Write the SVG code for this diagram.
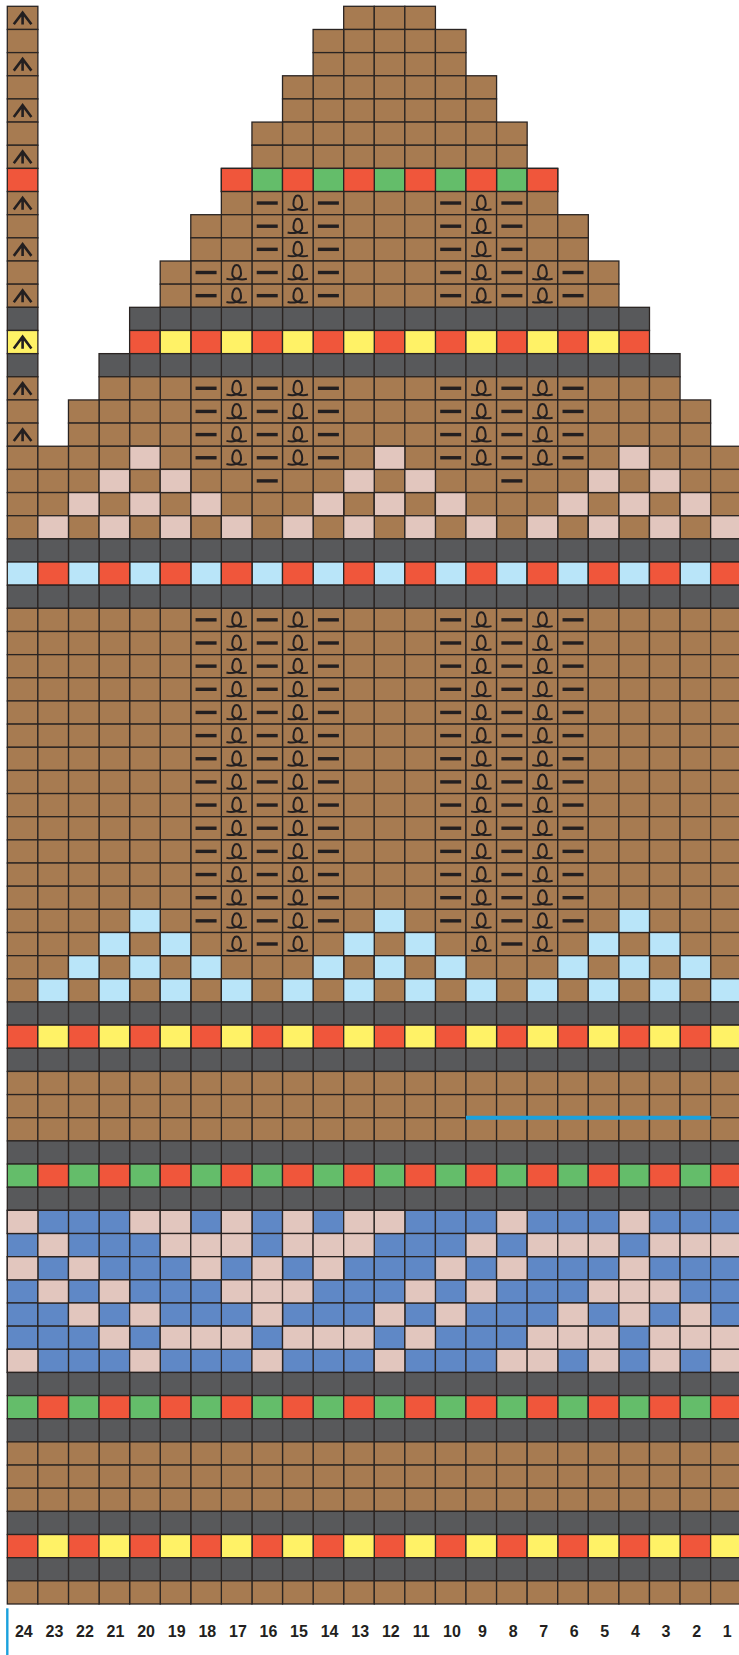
<svg xmlns="http://www.w3.org/2000/svg" xmlns:xlink="http://www.w3.org/1999/xlink" width="739" height="1655" viewBox="0 0 739 1655">
<style>
.b{fill:#a77b51}.d{fill:#58595b}.r{fill:#f0563b}.g{fill:#64bd6a}.y{fill:#fff266}.l{fill:#b9e5f9}.p{fill:#e2c6be}.u{fill:#5f88c6}
.num{font-family:"Liberation Sans Narrow","Liberation Sans",Arial,sans-serif;font-weight:bold;font-size:16px;fill:#231f20;text-anchor:middle}
</style>
<defs>
<rect id="c" width="30.58" height="23.155" stroke="#2a2422" stroke-width="1.3"/>
<rect id="pu" x="-10.5" y="-1.7" width="21" height="3.4" fill="#231f20"/>
<path id="lp" d="M-10.2,6.2 C-4.5,7.6 4.6,6.4 4.4,1 C4.2,-4 3,-7.6 0,-7.6 C-3,-7.6 -4.2,-4 -4.4,1 C-4.6,6.4 4.5,7.6 10.2,6.2" fill="none" stroke="#231f20" stroke-width="2"/>
<path id="dk" d="M6.5,18 L15.3,6.3 L24.1,18 M15.3,7 V18.2" fill="none" stroke="#231f20" stroke-width="2.6"/>
<g id="w1"><use href="#c" x="343.68"/><use href="#c" x="374.26"/><use href="#c" x="404.84"/></g>
<g id="w2"><use href="#w1"/><use href="#c" x="313.10"/><use href="#c" x="435.42"/></g>
<g id="w3"><use href="#w2"/><use href="#c" x="282.52"/><use href="#c" x="466.00"/></g>
<g id="w4"><use href="#w3"/><use href="#c" x="251.94"/><use href="#c" x="496.58"/></g>
<g id="w5"><use href="#w4"/><use href="#c" x="221.36"/><use href="#c" x="527.16"/></g>
<g id="w6"><use href="#w5"/><use href="#c" x="190.78"/><use href="#c" x="557.74"/></g>
<g id="w7"><use href="#w6"/><use href="#c" x="160.20"/><use href="#c" x="588.32"/></g>
<g id="w8"><use href="#w7"/><use href="#c" x="129.62"/><use href="#c" x="618.90"/></g>
<g id="w9"><use href="#w8"/><use href="#c" x="99.04"/><use href="#c" x="649.48"/></g>
<g id="w10"><use href="#w9"/><use href="#c" x="68.46"/><use href="#c" x="680.06"/></g>
<g id="w"><use href="#w10"/><use href="#c" x="7.30"/><use href="#c" x="37.88"/><use href="#c" x="710.64"/></g>
<g id="od"><use href="#c" x="37.88"/><use href="#c" x="99.04"/><use href="#c" x="160.20"/><use href="#c" x="221.36"/><use href="#c" x="282.52"/><use href="#c" x="343.68"/><use href="#c" x="404.84"/><use href="#c" x="466.00"/><use href="#c" x="527.16"/><use href="#c" x="588.32"/><use href="#c" x="649.48"/><use href="#c" x="710.64"/></g>
<g id="m">
<use href="#c" x="129.62"/><use href="#c" x="374.26"/><use href="#c" x="618.90"/>
<use href="#c" x="99.04" y="23.155"/><use href="#c" x="160.20" y="23.155"/><use href="#c" x="343.68" y="23.155"/><use href="#c" x="404.84" y="23.155"/><use href="#c" x="588.32" y="23.155"/><use href="#c" x="649.48" y="23.155"/>
<use href="#c" x="68.46" y="46.31"/><use href="#c" x="129.62" y="46.31"/><use href="#c" x="190.78" y="46.31"/><use href="#c" x="313.10" y="46.31"/><use href="#c" x="374.26" y="46.31"/><use href="#c" x="435.42" y="46.31"/><use href="#c" x="557.74" y="46.31"/><use href="#c" x="618.90" y="46.31"/><use href="#c" x="680.06" y="46.31"/>
</g>
<g id="s20"><use href="#pu" x="267.23" y="11.5"/><use href="#pu" x="511.87" y="11.5"/></g>
<g id="s3"><use href="#s20"/><use href="#pu" x="328.39" y="11.5"/><use href="#pu" x="450.71" y="11.5"/><use href="#lp" x="297.81" y="11.6"/><use href="#lp" x="481.29" y="11.6"/></g>
<g id="s5"><use href="#s3"/><use href="#pu" x="206.07" y="11.5"/><use href="#pu" x="573.03" y="11.5"/><use href="#lp" x="236.65" y="11.6"/><use href="#lp" x="542.45" y="11.6"/></g>
<g id="s40"><use href="#s20"/><use href="#lp" x="236.65" y="11.6"/><use href="#lp" x="297.81" y="11.6"/><use href="#lp" x="481.29" y="11.6"/><use href="#lp" x="542.45" y="11.6"/></g>
</defs>
<rect width="739" height="1655" fill="#fff"/>
<g id="strip">
<use href="#c" class="b" x="7.30" y="6.30"/><use href="#c" class="b" x="7.30" y="29.46"/><use href="#c" class="b" x="7.30" y="52.61"/><use href="#c" class="b" x="7.30" y="75.77"/><use href="#c" class="b" x="7.30" y="98.92"/><use href="#c" class="b" x="7.30" y="122.08"/><use href="#c" class="b" x="7.30" y="145.23"/><use href="#c" class="r" x="7.30" y="168.39"/><use href="#c" class="b" x="7.30" y="191.54"/><use href="#c" class="b" x="7.30" y="214.70"/><use href="#c" class="b" x="7.30" y="237.85"/><use href="#c" class="b" x="7.30" y="261.01"/><use href="#c" class="b" x="7.30" y="284.16"/><use href="#c" class="d" x="7.30" y="307.32"/><use href="#c" class="y" x="7.30" y="330.47"/><use href="#c" class="d" x="7.30" y="353.63"/><use href="#c" class="b" x="7.30" y="376.78"/><use href="#c" class="b" x="7.30" y="399.94"/><use href="#c" class="b" x="7.30" y="423.09"/>
<use href="#dk" x="7.30" y="6.30"/><use href="#dk" x="7.30" y="52.61"/><use href="#dk" x="7.30" y="98.92"/><use href="#dk" x="7.30" y="145.23"/><use href="#dk" x="7.30" y="191.54"/><use href="#dk" x="7.30" y="237.85"/><use href="#dk" x="7.30" y="284.16"/><use href="#dk" x="7.30" y="330.47"/><use href="#dk" x="7.30" y="376.78"/><use href="#dk" x="7.30" y="423.09"/>
</g>
<g id="top">
<use href="#w1" class="b" y="6.30"/>
<use href="#w2" class="b" y="29.46"/><use href="#w2" class="b" y="52.61"/>
<use href="#w3" class="b" y="75.77"/><use href="#w3" class="b" y="98.92"/>
<use href="#w4" class="b" y="122.08"/><use href="#w4" class="b" y="145.23"/>
<use href="#w5" class="g" y="168.39"/>
<g class="r"><use href="#c" x="221.36" y="168.39"/><use href="#c" x="282.52" y="168.39"/><use href="#c" x="343.68" y="168.39"/><use href="#c" x="404.84" y="168.39"/><use href="#c" x="466.00" y="168.39"/><use href="#c" x="527.16" y="168.39"/></g>
<use href="#w5" class="b" y="191.54"/>
<use href="#w6" class="b" y="214.70"/><use href="#w6" class="b" y="237.85"/>
<use href="#w7" class="b" y="261.01"/><use href="#w7" class="b" y="284.16"/>
<use href="#w8" class="d" y="307.32"/>
<use href="#w8" class="r" y="330.47"/>
<g class="y"><use href="#c" x="160.20" y="330.47"/><use href="#c" x="221.36" y="330.47"/><use href="#c" x="282.52" y="330.47"/><use href="#c" x="343.68" y="330.47"/><use href="#c" x="404.84" y="330.47"/><use href="#c" x="466.00" y="330.47"/><use href="#c" x="527.16" y="330.47"/><use href="#c" x="588.32" y="330.47"/></g>
<use href="#w9" class="d" y="353.63"/>
<use href="#w9" class="b" y="376.78"/>
<use href="#w10" class="b" y="399.94"/><use href="#w10" class="b" y="423.09"/>
</g>
<g id="body">
<use href="#w" class="b" y="446.25"/><use href="#w" class="b" y="469.40"/><use href="#w" class="b" y="492.56"/><use href="#w" class="b" y="515.71"/>
<use href="#m" class="p" y="446.25"/><use href="#od" class="p" y="515.71"/>
<use href="#w" class="d" y="538.87"/>
<use href="#w" class="l" y="562.02"/><use href="#od" class="r" y="562.02"/>
<use href="#w" class="d" y="585.18"/>
<use href="#w" class="b" y="608.33"/><use href="#w" class="b" y="631.49"/><use href="#w" class="b" y="654.64"/><use href="#w" class="b" y="677.80"/><use href="#w" class="b" y="700.95"/><use href="#w" class="b" y="724.11"/><use href="#w" class="b" y="747.26"/><use href="#w" class="b" y="770.42"/><use href="#w" class="b" y="793.57"/><use href="#w" class="b" y="816.73"/><use href="#w" class="b" y="839.88"/><use href="#w" class="b" y="863.04"/><use href="#w" class="b" y="886.19"/><use href="#w" class="b" y="909.35"/><use href="#w" class="b" y="932.50"/><use href="#w" class="b" y="955.66"/><use href="#w" class="b" y="978.81"/>
<use href="#m" class="l" y="909.35"/><use href="#od" class="l" y="978.81"/>
<use href="#w" class="d" y="1001.97"/>
<use href="#w" class="r" y="1025.12"/><use href="#od" class="y" y="1025.12"/>
<use href="#w" class="d" y="1048.28"/>
<use href="#w" class="b" y="1071.43"/><use href="#w" class="b" y="1094.59"/><use href="#w" class="b" y="1117.74"/>
<use href="#w" class="d" y="1140.90"/>
<use href="#w" class="g" y="1164.05"/><use href="#od" class="r" y="1164.05"/>
<use href="#w" class="d" y="1187.21"/>
<use href="#w" class="u" y="1210.36"/><use href="#w" class="u" y="1233.52"/><use href="#w" class="u" y="1256.67"/><use href="#w" class="u" y="1279.83"/><use href="#w" class="u" y="1302.98"/><use href="#w" class="u" y="1326.14"/><use href="#w" class="u" y="1349.29"/>
<g class="p">
<use href="#c" x="7.30" y="1210.36"/><use href="#c" x="129.62" y="1210.36"/><use href="#c" x="160.20" y="1210.36"/><use href="#c" x="221.36" y="1210.36"/><use href="#c" x="282.52" y="1210.36"/><use href="#c" x="343.68" y="1210.36"/><use href="#c" x="374.26" y="1210.36"/><use href="#c" x="496.58" y="1210.36"/><use href="#c" x="618.90" y="1210.36"/>
<use href="#c" x="37.88" y="1233.52"/><use href="#c" x="160.20" y="1233.52"/><use href="#c" x="190.78" y="1233.52"/><use href="#c" x="221.36" y="1233.52"/><use href="#c" x="282.52" y="1233.52"/><use href="#c" x="313.10" y="1233.52"/><use href="#c" x="343.68" y="1233.52"/><use href="#c" x="466.00" y="1233.52"/><use href="#c" x="527.16" y="1233.52"/><use href="#c" x="557.74" y="1233.52"/><use href="#c" x="588.32" y="1233.52"/><use href="#c" x="649.48" y="1233.52"/><use href="#c" x="680.06" y="1233.52"/><use href="#c" x="710.64" y="1233.52"/>
<use href="#c" x="7.30" y="1256.67"/><use href="#c" x="68.46" y="1256.67"/><use href="#c" x="190.78" y="1256.67"/><use href="#c" x="251.94" y="1256.67"/><use href="#c" x="313.10" y="1256.67"/><use href="#c" x="435.42" y="1256.67"/><use href="#c" x="496.58" y="1256.67"/><use href="#c" x="618.90" y="1256.67"/>
<use href="#c" x="37.88" y="1279.83"/><use href="#c" x="99.04" y="1279.83"/><use href="#c" x="221.36" y="1279.83"/><use href="#c" x="251.94" y="1279.83"/><use href="#c" x="282.52" y="1279.83"/><use href="#c" x="404.84" y="1279.83"/><use href="#c" x="466.00" y="1279.83"/><use href="#c" x="588.32" y="1279.83"/><use href="#c" x="618.90" y="1279.83"/><use href="#c" x="649.48" y="1279.83"/>
<use href="#c" x="68.46" y="1302.98"/><use href="#c" x="129.62" y="1302.98"/><use href="#c" x="251.94" y="1302.98"/><use href="#c" x="374.26" y="1302.98"/><use href="#c" x="435.42" y="1302.98"/><use href="#c" x="557.74" y="1302.98"/><use href="#c" x="618.90" y="1302.98"/><use href="#c" x="680.06" y="1302.98"/>
<use href="#c" x="99.04" y="1326.14"/><use href="#c" x="160.20" y="1326.14"/><use href="#c" x="190.78" y="1326.14"/><use href="#c" x="221.36" y="1326.14"/><use href="#c" x="282.52" y="1326.14"/><use href="#c" x="313.10" y="1326.14"/><use href="#c" x="343.68" y="1326.14"/><use href="#c" x="404.84" y="1326.14"/><use href="#c" x="527.16" y="1326.14"/><use href="#c" x="557.74" y="1326.14"/><use href="#c" x="588.32" y="1326.14"/><use href="#c" x="649.48" y="1326.14"/><use href="#c" x="680.06" y="1326.14"/><use href="#c" x="710.64" y="1326.14"/>
<use href="#c" x="7.30" y="1349.29"/><use href="#c" x="129.62" y="1349.29"/><use href="#c" x="251.94" y="1349.29"/><use href="#c" x="374.26" y="1349.29"/><use href="#c" x="496.58" y="1349.29"/><use href="#c" x="527.16" y="1349.29"/><use href="#c" x="588.32" y="1349.29"/><use href="#c" x="649.48" y="1349.29"/><use href="#c" x="710.64" y="1349.29"/>
</g>
<use href="#w" class="d" y="1372.45"/>
<use href="#w" class="g" y="1395.60"/><use href="#od" class="r" y="1395.60"/>
<use href="#w" class="d" y="1418.76"/>
<use href="#w" class="b" y="1441.91"/><use href="#w" class="b" y="1465.07"/><use href="#w" class="b" y="1488.22"/>
<use href="#w" class="d" y="1511.38"/>
<use href="#w" class="r" y="1534.53"/><use href="#od" class="y" y="1534.53"/>
<use href="#w" class="d" y="1557.69"/>
<use href="#w" class="b" y="1580.84"/>
</g>
<g id="symbols">
<use href="#s3" y="191.54"/><use href="#s3" y="214.70"/><use href="#s3" y="237.85"/>
<use href="#s5" y="261.01"/><use href="#s5" y="284.16"/>
<use href="#s5" y="376.78"/><use href="#s5" y="399.94"/><use href="#s5" y="423.09"/><use href="#s5" y="446.25"/>
<use href="#s20" y="469.40"/>
<use href="#s5" y="608.33"/><use href="#s5" y="631.49"/><use href="#s5" y="654.64"/><use href="#s5" y="677.80"/><use href="#s5" y="700.95"/><use href="#s5" y="724.11"/><use href="#s5" y="747.26"/><use href="#s5" y="770.42"/><use href="#s5" y="793.57"/><use href="#s5" y="816.73"/><use href="#s5" y="839.88"/><use href="#s5" y="863.04"/><use href="#s5" y="886.19"/><use href="#s5" y="909.35"/>
<use href="#s40" y="932.50"/>
</g>
<g id="marks">
<rect x="466.00" y="1115.74" width="244.64" height="4" fill="#1ba1dd"/>
<rect x="6.1" y="1608.3" width="2.4" height="46.7" fill="#1ba1dd"/>
</g>
<g id="labels">
<text class="num" x="23.8" y="1637">24</text><text class="num" x="54.4" y="1637">23</text><text class="num" x="85.0" y="1637">22</text><text class="num" x="115.5" y="1637">21</text><text class="num" x="146.1" y="1637">20</text><text class="num" x="176.7" y="1637">19</text><text class="num" x="207.3" y="1637">18</text><text class="num" x="237.9" y="1637">17</text><text class="num" x="268.4" y="1637">16</text><text class="num" x="299.0" y="1637">15</text><text class="num" x="329.6" y="1637">14</text><text class="num" x="360.2" y="1637">13</text><text class="num" x="390.8" y="1637">12</text><text class="num" x="421.3" y="1637">11</text><text class="num" x="451.9" y="1637">10</text><text class="num" x="482.5" y="1637">9</text><text class="num" x="513.1" y="1637">8</text><text class="num" x="543.7" y="1637">7</text><text class="num" x="574.2" y="1637">6</text><text class="num" x="604.8" y="1637">5</text><text class="num" x="635.4" y="1637">4</text><text class="num" x="666.0" y="1637">3</text><text class="num" x="696.6" y="1637">2</text><text class="num" x="727.1" y="1637">1</text>
</g>
</svg>
